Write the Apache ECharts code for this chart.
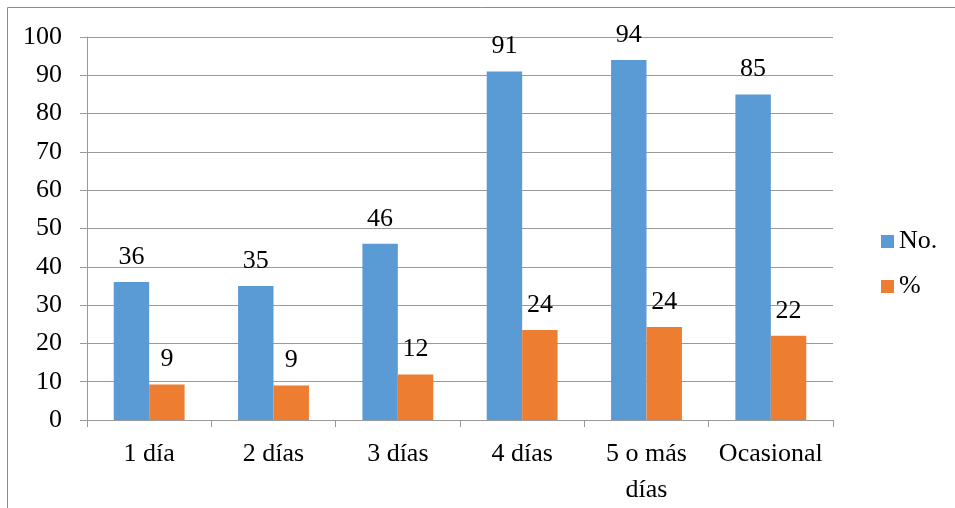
<!DOCTYPE html>
<html>
<head>
<meta charset="utf-8">
<script src="https://cdn.jsdelivr.net/npm/echarts@6/dist/echarts.min.js"></script>
<style>
  html, body { margin: 0; padding: 0; background: #ffffff; }
  #chart { width: 955px; height: 508px; }
</style>
</head>
<body>
<div id="chart"></div>
<script>
// Days of the week students attend, counts and share of the total
const categories = ['1 día', '2 días', '3 días', '4 días', '5 o más\ndías', 'Ocasional'];
const counts = [36, 35, 46, 91, 94, 85];
const percents = [9.3, 9.0, 11.9, 23.5, 24.3, 22.0];
const yTicks = { min: 0, max: 100, interval: 10 };

const FONT = '"Liberation Serif", "Times New Roman", serif';
const AXIS_GRAY = '#9a9a9a';

const chart = echarts.init(document.getElementById('chart'), null, { renderer: 'canvas' });

const labelStyle = {
  show: true,
  position: 'top',
  distance: 12,
  color: '#000',
  fontFamily: FONT,
  fontSize: 26,
  formatter: p => Math.round(p.value)
};

chart.setOption({
  backgroundColor: '#ffffff',
  animation: false,
  textStyle: { fontFamily: FONT },
  graphic: [{
    type: 'rect',
    shape: { x: 7.5, y: 7.5, width: 1000, height: 600 },
    style: { fill: 'none', stroke: '#8c8c8c', lineWidth: 1 },
    silent: true
  }],
  grid: { left: 87, right: 122, top: 37, bottom: 87, containLabel: false },
  legend: {
    orient: 'vertical',
    left: 876,
    top: 223,
    itemWidth: 13,
    itemHeight: 13,
    itemGap: 18,
    icon: 'rect',
    textStyle: { fontFamily: FONT, fontSize: 26, color: '#000', lineHeight: 27 },
    data: ['No.', '%']
  },
  xAxis: {
    type: 'category',
    data: categories,
    axisLine: { show: true, lineStyle: { color: AXIS_GRAY, width: 1 } },
    axisTick: { show: true, alignWithLabel: false, length: 7, lineStyle: { color: AXIS_GRAY } },
    axisLabel: {
      color: '#000',
      fontFamily: FONT,
      fontSize: 26,
      lineHeight: 36,
      margin: 16,
      interval: 0
    },
    splitLine: { show: false }
  },
  yAxis: {
    type: 'value',
    min: yTicks.min,
    max: yTicks.max,
    interval: yTicks.interval,
    axisLine: { show: true, lineStyle: { color: AXIS_GRAY, width: 1 } },
    axisTick: { show: true, inside: false, length: 7, lineStyle: { color: AXIS_GRAY } },
    axisLabel: { color: '#000', fontFamily: FONT, fontSize: 26, margin: 25 },
    splitLine: { show: true, lineStyle: { color: AXIS_GRAY, width: 1 } }
  },
  series: [
    {
      name: 'No.',
      type: 'bar',
      data: counts,
      barGap: '0%',
      barCategoryGap: '43%',
      itemStyle: { color: '#5B9BD5' },
      label: labelStyle
    },
    {
      name: '%',
      type: 'bar',
      data: percents,
      itemStyle: { color: '#ED7D31' },
      label: labelStyle
    }
  ]
});
</script>
</body>
</html>
